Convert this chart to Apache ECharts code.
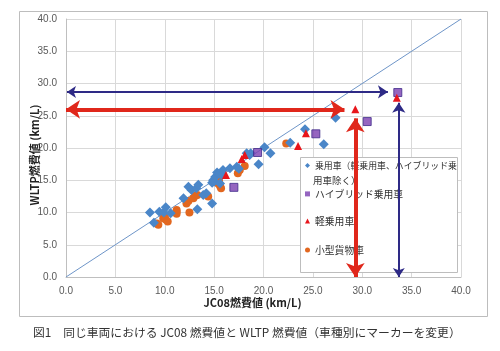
<!DOCTYPE html>
<html>
<head>
<meta charset="utf-8">
<script src="https://cdn.jsdelivr.net/npm/echarts@6/dist/echarts.min.js"></script>
<style>
  html, body { margin: 0; padding: 0; background: #fff; }
  #chart { width: 500px; height: 351px; }
</style>
</head>
<body>
<div id="chart"></div>
<script>
// 系列名
const seriesNames = ['乗用車（軽乗用車、ハイブリッド乗用車除く）', 'ハイブリッド乗用車', '軽乗用車', '小型貨物車'];

// [JC08, WLTP]
const passengerData = [
  [8.5, 10.0], [8.9, 8.4], [9.45, 10.1], [9.9, 10.0], [10.1, 10.8], [10.6, 9.9],
  [11.9, 12.2], [12.4, 14.0], [12.7, 13.5], [13.2, 13.75], [13.4, 14.3], [13.3, 10.5],
  [13.9, 12.7], [14.2, 13.0], [14.8, 11.4], [14.8, 14.6], [14.9, 15.0], [15.0, 14.8],
  [15.1, 15.5], [15.3, 16.2], [15.5, 16.0], [15.8, 15.8], [15.6, 14.5], [15.9, 16.6],
  [16.6, 16.85], [17.3, 17.1], [17.5, 16.8], [18.3, 19.2], [18.6, 18.9], [18.7, 19.2],
  [19.5, 17.5], [20.1, 20.1], [20.7, 19.2], [22.7, 20.8], [24.2, 22.9], [26.1, 20.6],
  [27.3, 24.7]
];
const hybridData = [[17.0, 13.9], [19.4, 19.3], [25.3, 22.2], [30.5, 24.1], [33.6, 28.6]];
const keiData = [[16.2, 15.8], [17.8, 18.3], [18.1, 18.9], [23.5, 20.3], [24.3, 22.3], [29.3, 26.0], [33.5, 27.8]];
const cargoData = [
  [9.2, 8.3], [9.35, 8.1], [9.85, 9.1], [10.0, 9.35], [10.1, 8.9], [10.3, 8.6],
  [11.2, 10.1], [11.2, 9.8], [11.2, 10.4], [12.2, 11.4], [12.4, 11.8], [12.5, 10.0],
  [12.9, 12.2], [13.1, 12.6], [13.3, 12.7], [14.4, 12.5], [15.4, 14.5], [15.6, 14.1],
  [15.7, 13.75], [15.5, 14.9], [17.4, 16.1], [17.6, 16.6], [18.1, 17.2], [22.3, 20.7]
];
// y = x 参照線
const diagonal = [[0, 0], [40, 40]];

// 矢印 (赤: 軽乗用車, 紺: ハイブリッド)
const redArrows = [[[0, 26.0], [28.2, 26.0]], [[29.3, 0], [29.3, 24.6]]];
const navyArrows = [[[0.1, 28.7], [32.6, 28.7]], [[33.7, 0], [33.7, 27.0]]];

const chart = echarts.init(document.getElementById('chart'));
const font = '"Liberation Sans", "Noto Sans CJK JP", sans-serif';
const jpFont = '"Noto Sans CJK JP", sans-serif';

const markerSeries = (name, data, symbol, color, size, extra) => Object.assign({
  name, type: 'scatter', data, symbol, symbolSize: size,
  itemStyle: { color, opacity: 1 },
  z: 3
}, extra || {});

chart.setOption({
  backgroundColor: '#fff',
  animation: false,
  title: {
    text: '図1　同じ車両における JC08 燃費値と WLTP 燃費値（車種別にマーカーを変更）',
    left: 33, top: 327, padding: 0,
    textStyle: { fontFamily: jpFont, fontSize: 11.8, fontWeight: 'normal', color: '#333' }
  },
  graphic: [
    { type: 'rect', shape: { x: 19.5, y: 11.5, width: 468, height: 305 }, style: { fill: 'none', stroke: '#bdbdbd', lineWidth: 1 }, z: 0 },
    { type: 'rect', shape: { x: 300.5, y: 157.5, width: 157, height: 115 }, style: { fill: '#fff', stroke: '#bdbdbd', lineWidth: 1 }, z: 3 },
    { type: 'text', left: 313, top: 176, style: { text: '用車除く）', fontFamily: jpFont, fontSize: 9.5, fill: '#333' }, z: 5 }
  ],
  legend: [
    { data: [seriesNames[0]], left: 305, top: 161, formatter: () => '乗用車（軽乗用車、ハイブリッド乗', textStyle: { fontFamily: jpFont, fontSize: 8.9, color: '#333' } },
    { data: [seriesNames[1]], left: 305, top: 189 },
    { data: [seriesNames[2]], left: 305, top: 216 },
    { data: [seriesNames[3]], left: 305, top: 245 }
  ].map(l => Object.assign({
    orient: 'vertical', padding: 0, itemWidth: 5, itemHeight: 5, itemGap: 0,
    itemStyle: { borderWidth: 0 },
    textStyle: { fontFamily: jpFont, fontSize: 9.8, color: '#333' },
    z: 5
  }, l)),
  grid: { left: 66, right: 39, top: 19, bottom: 74 },
  xAxis: {
    type: 'value', min: 0, max: 40, interval: 5,
    name: 'JC08燃費値 (km/L)', nameLocation: 'middle', nameGap: 20, nameMoveOverlap: false,
    nameTextStyle: { fontFamily: jpFont, fontSize: 11, fontWeight: 'bold', color: '#222', padding: [0, 22, 0, 0] },
    axisLine: { show: true, lineStyle: { color: '#bfbfbf' } },
    axisTick: { show: false },
    axisLabel: { color: '#595959', fontFamily: font, fontSize: 10, margin: 9, formatter: v => v.toFixed(1) },
    splitLine: { lineStyle: { color: '#d9d9d9' } }
  },
  yAxis: {
    type: 'value', min: 0, max: 40, interval: 5,
    name: 'WLTP燃費値 (km/L)', nameLocation: 'middle', nameGap: 26, nameRotate: 90, nameMoveOverlap: false,
    nameTextStyle: { fontFamily: jpFont, fontSize: 11, fontWeight: 'bold', color: '#222', padding: [0, 14, 0, 0] },
    axisLine: { show: true, lineStyle: { color: '#bfbfbf' } },
    axisTick: { show: false },
    axisLabel: { color: '#595959', fontFamily: font, fontSize: 10, margin: 9, formatter: v => v.toFixed(1) },
    splitLine: { lineStyle: { color: '#d9d9d9' } }
  },
  series: [
    {
      type: 'line', data: diagonal, symbol: 'none', silent: true,
      lineStyle: { color: '#6e95c8', width: 1 }, z: 2
    },
    markerSeries(seriesNames[3], cargoData, 'circle', '#e2671f', 8),
    markerSeries(seriesNames[0], passengerData, 'diamond', '#4a86c8', 10),
    markerSeries(seriesNames[1], hybridData, 'rect', '#7b3fb0', 8, { itemStyle: { color: '#7b3fb0', borderColor: '#3f2a8a', borderWidth: 1 } }),
    markerSeries(seriesNames[2], keiData, 'triangle', '#e8151b', 8),
    {
      type: 'lines', coordinateSystem: 'cartesian2d', z: 10,
      data: redArrows.map(c => ({ coords: c })),
      symbol: ['arrow', 'arrow'], symbolSize: [14, 14],
      lineStyle: { color: '#e0271b', width: 4, opacity: 1 }
    },
    {
      type: 'lines', coordinateSystem: 'cartesian2d', z: 10,
      data: navyArrows.map(c => ({ coords: c })),
      symbol: ['arrow', 'arrow'], symbolSize: [9, 10],
      lineStyle: { color: '#2e2a86', width: 2, opacity: 1 }
    }
  ]
});
window.addEventListener('resize', () => chart.resize());
</script>
</body>
</html>
